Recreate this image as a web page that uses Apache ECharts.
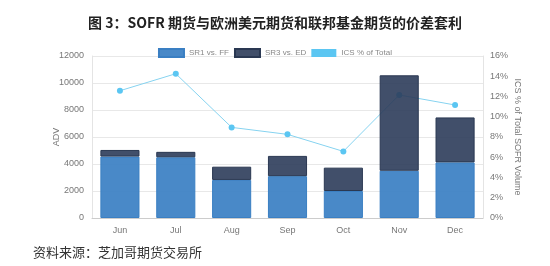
<!DOCTYPE html>
<html><head><meta charset="utf-8">
<script src="https://cdn.jsdelivr.net/npm/echarts@6/dist/echarts.min.js"></script>
<style>html,body{margin:0;padding:0;background:#fff}#c{width:550px;height:266px}</style>
</head><body><div id="c"></div>
<script>
const categories = ['Jun','Jul','Aug','Sep','Oct','Nov','Dec'];
const sr1VsFF = [4550, 4500, 2820, 3100, 2000, 3500, 4120];
const sr3VsED = [490, 400, 980, 1500, 1730, 7070, 3330];
const icsPct = [12.57, 14.25, 8.95, 8.26, 6.58, 12.15, 11.16];
const leftTicks = [0, 2000, 4000, 6000, 8000, 10000, 12000];
const rightTicks = [0, 2, 4, 6, 8, 10, 12, 14, 16];

const chart = echarts.init(document.getElementById('c'), null, {renderer:'canvas'});
const axisLbl = {color:'#777', fontSize:9, fontFamily:'Liberation Sans, Arial, sans-serif'};
chart.setOption({
  animation:false,
  title:[{
    text:'图 3：SOFR 期货与欧洲美元期货和联邦基金期货的价差套利',
    left:'center', top:11,
    textStyle:{fontSize:14, fontWeight:'bold', color:'#222', fontFamily:'Noto Sans CJK SC'}
  },{
    text:'资料来源：芝加哥期货交易所',
    left:28, top:241,
    textStyle:{fontSize:13, fontWeight:'normal', color:'#333', fontFamily:'Noto Sans CJK SC'}
  }],
  legend:{
    top:43, left:'center', itemWidth:25, itemHeight:8, itemGap:5,
    icon:'rect',
    data:['SR1 vs. FF','SR3 vs. ED','ICS % of Total'],
    textStyle:{color:'#888', fontSize:8, fontFamily:'Liberation Sans, Arial, sans-serif'}
  },
  grid:{left:92, right:67, top:56, bottom:48},
  xAxis:{
    type:'category', data:categories,
    axisLine:{show:true, lineStyle:{color:'#ccc'}},
    axisTick:{show:false},
    axisLabel:Object.assign({margin:8}, axisLbl),
    splitLine:{show:false}
  },
  yAxis:[{
    type:'value', min:0, max:12000, interval:2000,
    name:'ADV', nameLocation:'middle', nameGap:31, nameRotate:90, nameMoveOverlap:false,
    nameTextStyle:{color:'#777', fontSize:9, fontFamily:'Liberation Sans, Arial, sans-serif'},
    axisLine:{show:true, lineStyle:{color:'#e4e4e4'}},
    axisTick:{show:false},
    axisLabel:Object.assign({margin:8, formatter:function(v){return String(v);}}, axisLbl),
    splitLine:{lineStyle:{color:'#e8e8e8'}}
  },{
    type:'value', min:0, max:16, interval:2,
    name:'ICS % of Total SOFR Volume', nameLocation:'middle', nameGap:30, nameRotate:-90, nameMoveOverlap:false,
    nameTextStyle:{color:'#777', fontSize:9, fontFamily:'Liberation Sans, Arial, sans-serif'},
    axisLine:{show:true, lineStyle:{color:'#e4e4e4'}},
    axisTick:{show:false},
    axisLabel:Object.assign({margin:7, formatter:'{value}%'}, axisLbl),
    splitLine:{show:false}
  }],
  series:[{
    name:'ICS % of Total', type:'line', yAxisIndex:1, data:icsPct,
    symbol:'circle', symbolSize:6,
    lineStyle:{color:'#86d3f0', width:1},
    itemStyle:{color:'#5bc6f2'},
    z:2
  },{
    name:'SR1 vs. FF', type:'bar', stack:'a', data:sr1VsFF, barWidth:'70%',
    itemStyle:{color:'rgba(58,127,195,0.92)', borderColor:'rgba(58,127,195,1)', borderWidth:1},
    z:3
  },{
    name:'SR3 vs. ED', type:'bar', stack:'a', data:sr3VsED, barWidth:'70%',
    itemStyle:{color:'rgba(44,60,90,0.9)', borderColor:'#2a3852', borderWidth:1},
    z:3
  }]
});
</script></body></html>
